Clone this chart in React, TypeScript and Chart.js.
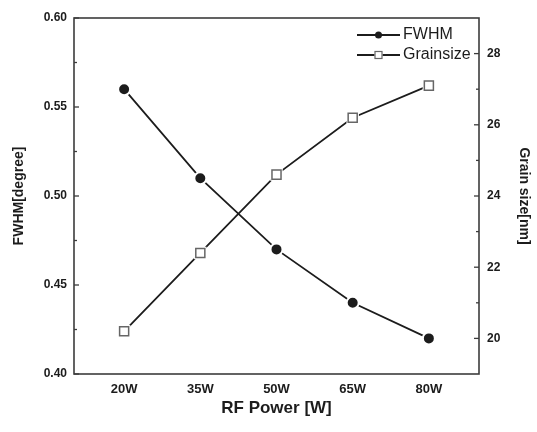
import React, { useEffect, useRef } from 'react';
import { Chart, registerables } from 'chart.js';

Chart.register(...registerables);

const categories = ['20W', '35W', '50W', '65W', '80W'];
const fwhm = [0.56, 0.51, 0.47, 0.44, 0.42];
const grainSize = [20.2, 22.4, 24.6, 26.2, 27.1];
const fwhmTicks = [0.4, 0.45, 0.5, 0.55, 0.6];
const fwhmMinor = [0.425, 0.475, 0.525, 0.575];
const grainTicks = [20, 22, 24, 26, 28];
const grainMinor = [21, 23, 25, 27];

const FONT = "'Liberation Sans', Arial, Helvetica, sans-serif";
const AXIS = '#3c3c3c';
const INK = '#1c1c1c';

const framePlugin = {
  id: 'frame',
  afterDraw(chart: any) {
    const { ctx, chartArea: a, scales } = chart;
    ctx.save();
    ctx.strokeStyle = AXIS;
    ctx.lineWidth = 1.6;
    ctx.strokeRect(a.left, a.top, a.right - a.left, a.bottom - a.top);
    ctx.lineWidth = 1.3;
    const tick = (x1: number, y1: number, x2: number, y2: number) => {
      ctx.beginPath();
      ctx.moveTo(x1, y1);
      ctx.lineTo(x2, y2);
      ctx.stroke();
    };
    fwhmTicks.forEach((v) => {
      const y = scales.y.getPixelForValue(v);
      tick(a.left, y, a.left + 5, y);
    });
    fwhmMinor.forEach((v) => {
      const y = scales.y.getPixelForValue(v);
      tick(a.left, y, a.left + 3, y);
    });
    grainTicks.forEach((v) => {
      const y = scales.y1.getPixelForValue(v);
      tick(a.right, y, a.right - 5, y);
    });
    grainMinor.forEach((v) => {
      const y = scales.y1.getPixelForValue(v);
      tick(a.right, y, a.right - 3, y);
    });

    // legend
    const x0 = a.right - 122;
    const x1 = a.right - 79;
    const xm = (x0 + x1) / 2;
    const rows = [a.top + 17, a.top + 37];
    ctx.strokeStyle = INK;
    ctx.lineWidth = 1.8;
    rows.forEach((y) => tick(x0, y, x1, y));
    ctx.fillStyle = INK;
    ctx.beginPath();
    ctx.arc(xm, rows[0], 3.5, 0, Math.PI * 2);
    ctx.fill();
    ctx.fillStyle = '#fff';
    ctx.fillRect(xm - 4, rows[1] - 4, 8, 8);
    ctx.strokeStyle = '#666';
    ctx.lineWidth = 1.2;
    ctx.strokeRect(xm - 3.5, rows[1] - 3.5, 7, 7);
    ctx.fillStyle = INK;
    ctx.font = `16px ${FONT}`;
    ctx.textBaseline = 'middle';
    ctx.textAlign = 'left';
    ctx.fillText('FWHM', x1 + 3, rows[0]);
    ctx.fillText('Grainsize', x1 + 3, rows[1]);
    ctx.restore();
  },
};

export default function App() {
  const ref = useRef<HTMLCanvasElement | null>(null);

  useEffect(() => {
    if (!ref.current) return;
    const xy = (arr: number[]) => arr.map((v, i) => ({ x: i, y: v }));
    const chart = new Chart(ref.current, {
      type: 'line',
      data: {
        datasets: [
          {
            label: 'Grainsize markers',
            data: xy(grainSize),
            yAxisID: 'y1',
            showLine: false,
            pointStyle: 'rect',
            pointRadius: 6.4,
            pointBackgroundColor: '#fff',
            pointBorderColor: '#666',
            pointBorderWidth: 1.5,
          },
          {
            label: 'Grainsize halo',
            data: xy(grainSize),
            yAxisID: 'y1',
            showLine: false,
            pointStyle: 'rect',
            pointRadius: 8.8,
            pointBackgroundColor: '#fff',
            pointBorderColor: '#fff',
            pointBorderWidth: 0,
          },
          {
            label: 'Grainsize',
            data: xy(grainSize),
            yAxisID: 'y1',
            borderColor: INK,
            borderWidth: 1.8,
            pointRadius: 0,
            tension: 0,
          },
          {
            label: 'FWHM',
            data: xy(fwhm),
            yAxisID: 'y',
            borderColor: INK,
            borderWidth: 1.8,
            pointRadius: 6,
            pointBackgroundColor: INK,
            pointBorderColor: '#fff',
            pointBorderWidth: 2,
            tension: 0,
          },
        ],
      },
      options: {
        responsive: false,
        animation: false,
        events: [],
        layout: { padding: { top: 18, left: 0, right: 0, bottom: 0 } },
        plugins: { legend: { display: false }, tooltip: { enabled: false } },
        scales: {
          x: {
            type: 'linear',
            min: -0.658,
            max: 4.658,
            grid: { display: false, drawTicks: false },
            border: { display: false },
            afterBuildTicks: (s: any) => {
              s.ticks = categories.map((_, i) => ({ value: i }));
            },
            afterFit: (s: any) => {
              s.height = 58;
            },
            ticks: {
              padding: 8,
              color: INK,
              font: { family: FONT, size: 13, weight: 'bold' },
              callback: (v: any) => categories[v] ?? '',
              maxRotation: 0,
            },
            title: {
              display: true,
              text: 'RF Power [W]',
              color: INK,
              font: { family: FONT, size: 17, weight: 'bold' },
              padding: 13,
            },
          },
          y: {
            position: 'left',
            min: 0.4,
            max: 0.6,
            grid: { display: false, drawTicks: false },
            border: { display: false },
            afterBuildTicks: (s: any) => {
              s.ticks = fwhmTicks.map((v) => ({ value: v }));
            },
            afterFit: (s: any) => {
              s.width = 74;
            },
            ticks: {
              padding: 7,
              color: INK,
              font: { family: FONT, size: 12, weight: 'bold' },
              callback: (v: any) => Number(v).toFixed(2),
            },
            title: {
              display: true,
              text: 'FWHM[degree]',
              color: INK,
              font: { family: FONT, size: 14, weight: 'bold' },
              padding: 11,
            },
          },
          y1: {
            position: 'right',
            min: 19,
            max: 29,
            grid: { display: false, drawTicks: false },
            border: { display: false },
            afterBuildTicks: (s: any) => {
              s.ticks = grainTicks.map((v) => ({ value: v }));
            },
            afterFit: (s: any) => {
              s.width = 58;
            },
            ticks: {
              padding: 8,
              color: INK,
              font: { family: FONT, size: 12, weight: 'bold' },
              callback: (v: any) => String(v),
            },
            title: {
              display: true,
              text: 'Grain size[nm]',
              color: INK,
              font: { family: FONT, size: 14, weight: 'bold' },
              padding: 5,
            },
          },
        },
      } as any,
      plugins: [framePlugin],
    });
    return () => chart.destroy();
  }, []);

  return (
    <div style={{ position: 'absolute', left: 0, top: 0, width: 537, height: 432, background: '#fff' }}>
      <canvas ref={ref} width={537} height={432} />
    </div>
  );
}
